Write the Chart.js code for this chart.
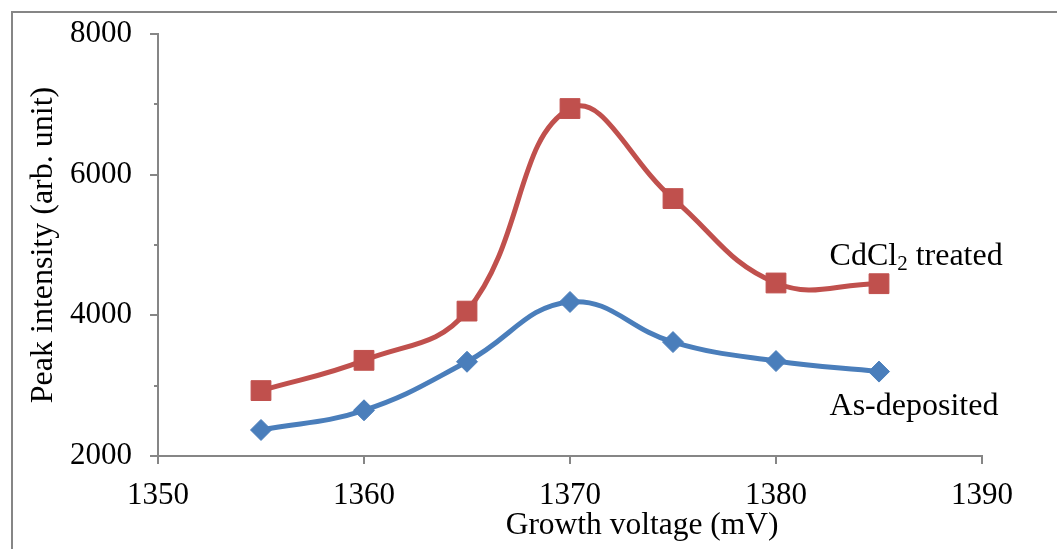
<!DOCTYPE html>
<html>
<head>
<meta charset="utf-8">
<script src="https://cdn.jsdelivr.net/npm/chart.js@4/dist/chart.umd.min.js"></script>
<style>
  html, body { margin: 0; padding: 0; background: #fff; }
</style>
</head>
<body>
<canvas id="chart" width="1057" height="549"></canvas>
<script>
// data
const voltages = [1355, 1360, 1365, 1370, 1375, 1380, 1385];
const asDeposited = [2370, 2650, 3340, 4190, 3620, 3350, 3200];
const cdcl2Treated = [2930, 3360, 4060, 6940, 5660, 4460, 4450];
const xTicks = [1350, 1360, 1370, 1380, 1390];
const yTicks = [2000, 4000, 6000, 8000];
const yMinorStep = 1000;

const FONT = '"Liberation Serif", "Times New Roman", serif';
const AXIS_GREY = '#868686';
const RED = '#C0504D';
const BLUE = '#4A7EBB';

const toPoints = (xs, ys) => xs.map((x, i) => ({ x: x, y: ys[i] }));

// frame, tick marks, x title (sits right of centre in the original) and series labels
const extras = {
    id: 'extras',
    afterDraw(chart) {
        const ctx = chart.ctx;
        const xs = chart.scales.x, ys = chart.scales.y;
        ctx.save();

        // outer frame (right and bottom edges are cut off in the picture)
        ctx.strokeStyle = AXIS_GREY;
        ctx.lineWidth = 2;
        ctx.beginPath();
        ctx.moveTo(12, chart.height);
        ctx.lineTo(12, 12);
        ctx.lineTo(chart.width, 12);
        ctx.stroke();

        // tick marks
        const axisX = xs.left;
        for (let v = ys.min; v <= ys.max; v += yMinorStep) {
            const y = Math.round(ys.getPixelForValue(v));
            const len = yTicks.includes(v) ? 8 : 4;
            ctx.beginPath();
            ctx.moveTo(axisX - len, y);
            ctx.lineTo(axisX, y);
            ctx.stroke();
        }
        const axisY = ys.bottom;
        xTicks.forEach(v => {
            const x = Math.round(xs.getPixelForValue(v));
            ctx.beginPath();
            ctx.moveTo(x, axisY);
            ctx.lineTo(x, axisY + 8);
            ctx.stroke();
        });

        ctx.fillStyle = '#000';
        ctx.textBaseline = 'alphabetic';

        // x axis title
        ctx.textAlign = 'center';
        ctx.font = '31.5px ' + FONT;
        ctx.fillText('Growth voltage (mV)', xs.getPixelForValue(1373.5), axisY + 78);

        // series labels
        ctx.textAlign = 'left';
        let x = xs.getPixelForValue(1382.6);
        let y = ys.getPixelForValue(4716);
        ctx.font = '32px ' + FONT;
        ctx.fillText('CdCl', x, y);
        x += ctx.measureText('CdCl').width;
        ctx.font = '21px ' + FONT;
        ctx.fillText('2', x, y + 5);
        x += ctx.measureText('2').width;
        ctx.font = '32px ' + FONT;
        ctx.fillText(' treated', x, y);

        ctx.fillText('As-deposited', xs.getPixelForValue(1382.6), ys.getPixelForValue(2583));
        ctx.restore();
    }
};

const ctx = document.getElementById('chart').getContext('2d');
const chart = new Chart(ctx, {
    type: 'line',
    data: {
        datasets: [{
            label: 'As-deposited',
            data: toPoints(voltages, asDeposited),
            borderColor: BLUE,
            backgroundColor: BLUE,
            borderWidth: 5,
            tension: 0.42,
            pointStyle: 'rectRot',
            pointRadius: 10.5,
            pointBorderWidth: 1,
            pointHoverRadius: 10.5
        }, {
            label: 'CdCl2 treated',
            data: toPoints(voltages, cdcl2Treated),
            borderColor: RED,
            backgroundColor: RED,
            borderWidth: 5,
            tension: 0.42,
            pointStyle: 'rect',
            pointRadius: 14,
            pointBorderWidth: 1,
            pointHoverRadius: 14
        }]
    },
    options: {
        responsive: false,
        animation: false,
        layout: {
            autoPadding: false,
            padding: { left: 0, top: 34, right: 75, bottom: 0 }
        },
        plugins: {
            legend: { display: false },
            tooltip: { enabled: false }
        },
        scales: {
            x: {
                type: 'linear',
                min: 1350,
                max: 1390,
                afterBuildTicks: scale => { scale.ticks = xTicks.map(v => ({ value: v })); },
                afterFit: scale => { scale.height = 93; },
                grid: { display: true, drawOnChartArea: false, drawTicks: false },
                border: { display: true, color: AXIS_GREY, width: 2 },
                ticks: {
                    color: '#000',
                    padding: 21,
                    maxRotation: 0,
                    font: { family: FONT, size: 31 },
                    callback: v => String(v)
                },
                title: { display: false }
            },
            y: {
                min: 2000,
                max: 8000,
                afterBuildTicks: scale => { scale.ticks = yTicks.map(v => ({ value: v })); },
                afterFit: scale => {
                    scale.width = 158;
                    scale.paddingTop = 0;
                    scale.paddingBottom = 0;
                },
                grid: { display: true, drawOnChartArea: false, drawTicks: false },
                border: { display: true, color: AXIS_GREY, width: 2 },
                ticks: {
                    color: '#000',
                    padding: 26,
                    font: { family: FONT, size: 31 },
                    callback: v => String(v)
                },
                title: {
                    display: true,
                    text: 'Peak intensity (arb. unit)',
                    color: '#000',
                    font: { family: FONT, size: 32 },
                    padding: { top: 24, bottom: 0 }
                }
            }
        }
    },
    plugins: [extras]
});
</script>
</body>
</html>
